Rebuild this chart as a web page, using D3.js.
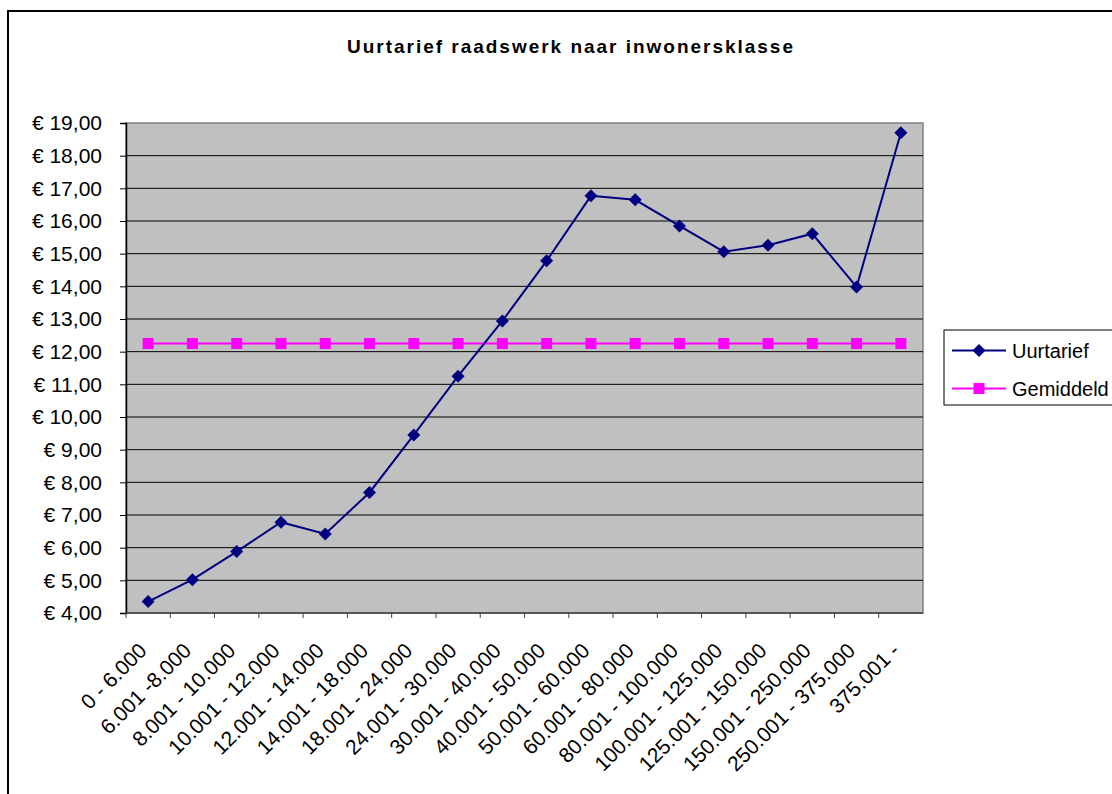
<!DOCTYPE html>
<html>
<head>
<meta charset="utf-8">
<script src="https://cdn.jsdelivr.net/npm/d3@7.9.0/dist/d3.min.js"></script>
<style>
  body { margin: 0; background: #fff; }
  svg { display: block; font-family: 'Liberation Sans', Arial, sans-serif; }
</style>
</head>
<body>
<svg id="chart" width="1112" height="794"></svg>
<script>
// inwonersklassen
const klassen = ['0 - 6.000', '6.001 -8.000', '8.001 - 10.000', '10.001 - 12.000', '12.001 - 14.000',
  '14.001 - 18.000', '18.001 - 24.000', '24.001 - 30.000', '30.001 - 40.000', '40.001 - 50.000',
  '50.001 - 60.000', '60.001 - 80.000', '80.001 - 100.000', '100.001 - 125.000', '125.001 - 150.000',
  '150.001 - 250.000', '250.001 - 375.000', '375.001 -'];
const uurtarief = [4.35, 5.02, 5.88, 6.78, 6.42, 7.69, 9.45, 11.25, 12.94, 14.78,
  16.77, 16.65, 15.85, 15.06, 15.26, 15.61, 13.98, 18.70];
const gemiddeld = klassen.map(() => 12.25);
const yTicks = d3.range(4, 20);

const svg = d3.select('#chart');
const plot = { left: 126, top: 123, right: 923, bottom: 613 };

// chart frame
svg.append('rect')
  .attr('x', 8).attr('y', 11)
  .attr('width', 1120).attr('height', 800)
  .attr('fill', '#fff').attr('stroke', '#000').attr('stroke-width', 2);

svg.append('text')
  .attr('x', 570).attr('y', 53)
  .attr('text-anchor', 'middle')
  .attr('font-size', 19).attr('font-weight', 'bold')
  .attr('textLength', 446).attr('lengthAdjust', 'spacing')
  .text('Uurtarief raadswerk naar inwonersklasse');

const x = d3.scaleBand().domain(klassen).range([plot.left, plot.right]).padding(0);
const y = d3.scaleLinear().domain([4, 19]).range([plot.bottom, plot.top]);

svg.append('rect')
  .attr('x', plot.left).attr('y', plot.top)
  .attr('width', plot.right - plot.left).attr('height', plot.bottom - plot.top)
  .attr('fill', '#c0c0c0').attr('stroke', '#808080').attr('stroke-width', 1.5);

// gridlines
svg.append('g')
  .selectAll('line')
  .data(yTicks.slice(1, -1))
  .join('line')
  .attr('x1', plot.left).attr('x2', plot.right)
  .attr('y1', (d) => y(d)).attr('y2', (d) => y(d))
  .attr('stroke', '#000').attr('stroke-width', 1);

// y axis
const fmt = d3.format('.2f');
const yAxis = svg.append('g')
  .attr('transform', `translate(${plot.left},0)`)
  .call(d3.axisLeft(y).tickValues(yTicks).tickSize(6).tickPadding(18)
    .tickFormat((d) => '€ ' + fmt(d).replace('.', ',')));
yAxis.select('.domain').attr('stroke', '#000').attr('stroke-width', 1.5);
yAxis.selectAll('.tick line').attr('stroke', '#000');
yAxis.selectAll('text').attr('font-size', 21).attr('fill', '#000')
  .attr('font-family', "'Liberation Sans', Arial, sans-serif");

// x axis: boundary ticks
svg.append('line')
  .attr('x1', plot.left).attr('x2', plot.right)
  .attr('y1', plot.bottom).attr('y2', plot.bottom)
  .attr('stroke', '#404040').attr('stroke-width', 1.5);
svg.append('g')
  .selectAll('line')
  .data(klassen)
  .join('line')
  .attr('x1', (d) => x(d)).attr('x2', (d) => x(d))
  .attr('y1', plot.bottom).attr('y2', plot.bottom + 5)
  .attr('stroke', '#404040');

svg.append('g')
  .selectAll('text')
  .data(klassen)
  .join('text')
  .attr('transform', (d) => `translate(${x(d) + x.bandwidth() / 2},652) rotate(-45)`)
  .attr('text-anchor', 'end')
  .attr('font-size', 21)
  .text((d) => d);

const cx = (i) => x(klassen[i]) + x.bandwidth() / 2;
const line = d3.line().x((d, i) => cx(i)).y((d) => y(d));

// Gemiddeld
svg.append('path')
  .datum(gemiddeld)
  .attr('d', line)
  .attr('fill', 'none').attr('stroke', '#ff00ff').attr('stroke-width', 2);
svg.append('g')
  .selectAll('rect')
  .data(gemiddeld)
  .join('rect')
  .attr('x', (d, i) => cx(i) - 5.5).attr('y', (d) => y(d) - 5.5)
  .attr('width', 11).attr('height', 11)
  .attr('fill', '#ff00ff');

// Uurtarief
svg.append('path')
  .datum(uurtarief)
  .attr('d', line)
  .attr('fill', 'none').attr('stroke', '#000080').attr('stroke-width', 2);
const diamond = 'M0,-6.5L6.5,0L0,6.5L-6.5,0Z';
svg.append('g')
  .selectAll('path')
  .data(uurtarief)
  .join('path')
  .attr('transform', (d, i) => `translate(${cx(i)},${y(d)})`)
  .attr('d', diamond)
  .attr('fill', '#000080');

// legend
const legend = svg.append('g');
legend.append('rect')
  .attr('x', 944).attr('y', 330)
  .attr('width', 200).attr('height', 75)
  .attr('fill', '#fff').attr('stroke', '#000').attr('stroke-width', 1);
const items = [
  { label: 'Uurtarief', color: '#000080', shape: 'diamond', ly: 350.5 },
  { label: 'Gemiddeld', color: '#ff00ff', shape: 'square', ly: 388.5 }
];
items.forEach((it) => {
  legend.append('line')
    .attr('x1', 952).attr('x2', 1006)
    .attr('y1', it.ly).attr('y2', it.ly)
    .attr('stroke', it.color).attr('stroke-width', 2);
  if (it.shape === 'diamond') {
    legend.append('path')
      .attr('transform', `translate(979,${it.ly})`)
      .attr('d', diamond).attr('fill', it.color);
  } else {
    legend.append('rect')
      .attr('x', 973.5).attr('y', it.ly - 5.5)
      .attr('width', 11).attr('height', 11).attr('fill', it.color);
  }
  legend.append('text')
    .attr('x', 1012).attr('y', it.ly + 7)
    .attr('font-size', 20)
    .text(it.label);
});
</script>
</body>
</html>
